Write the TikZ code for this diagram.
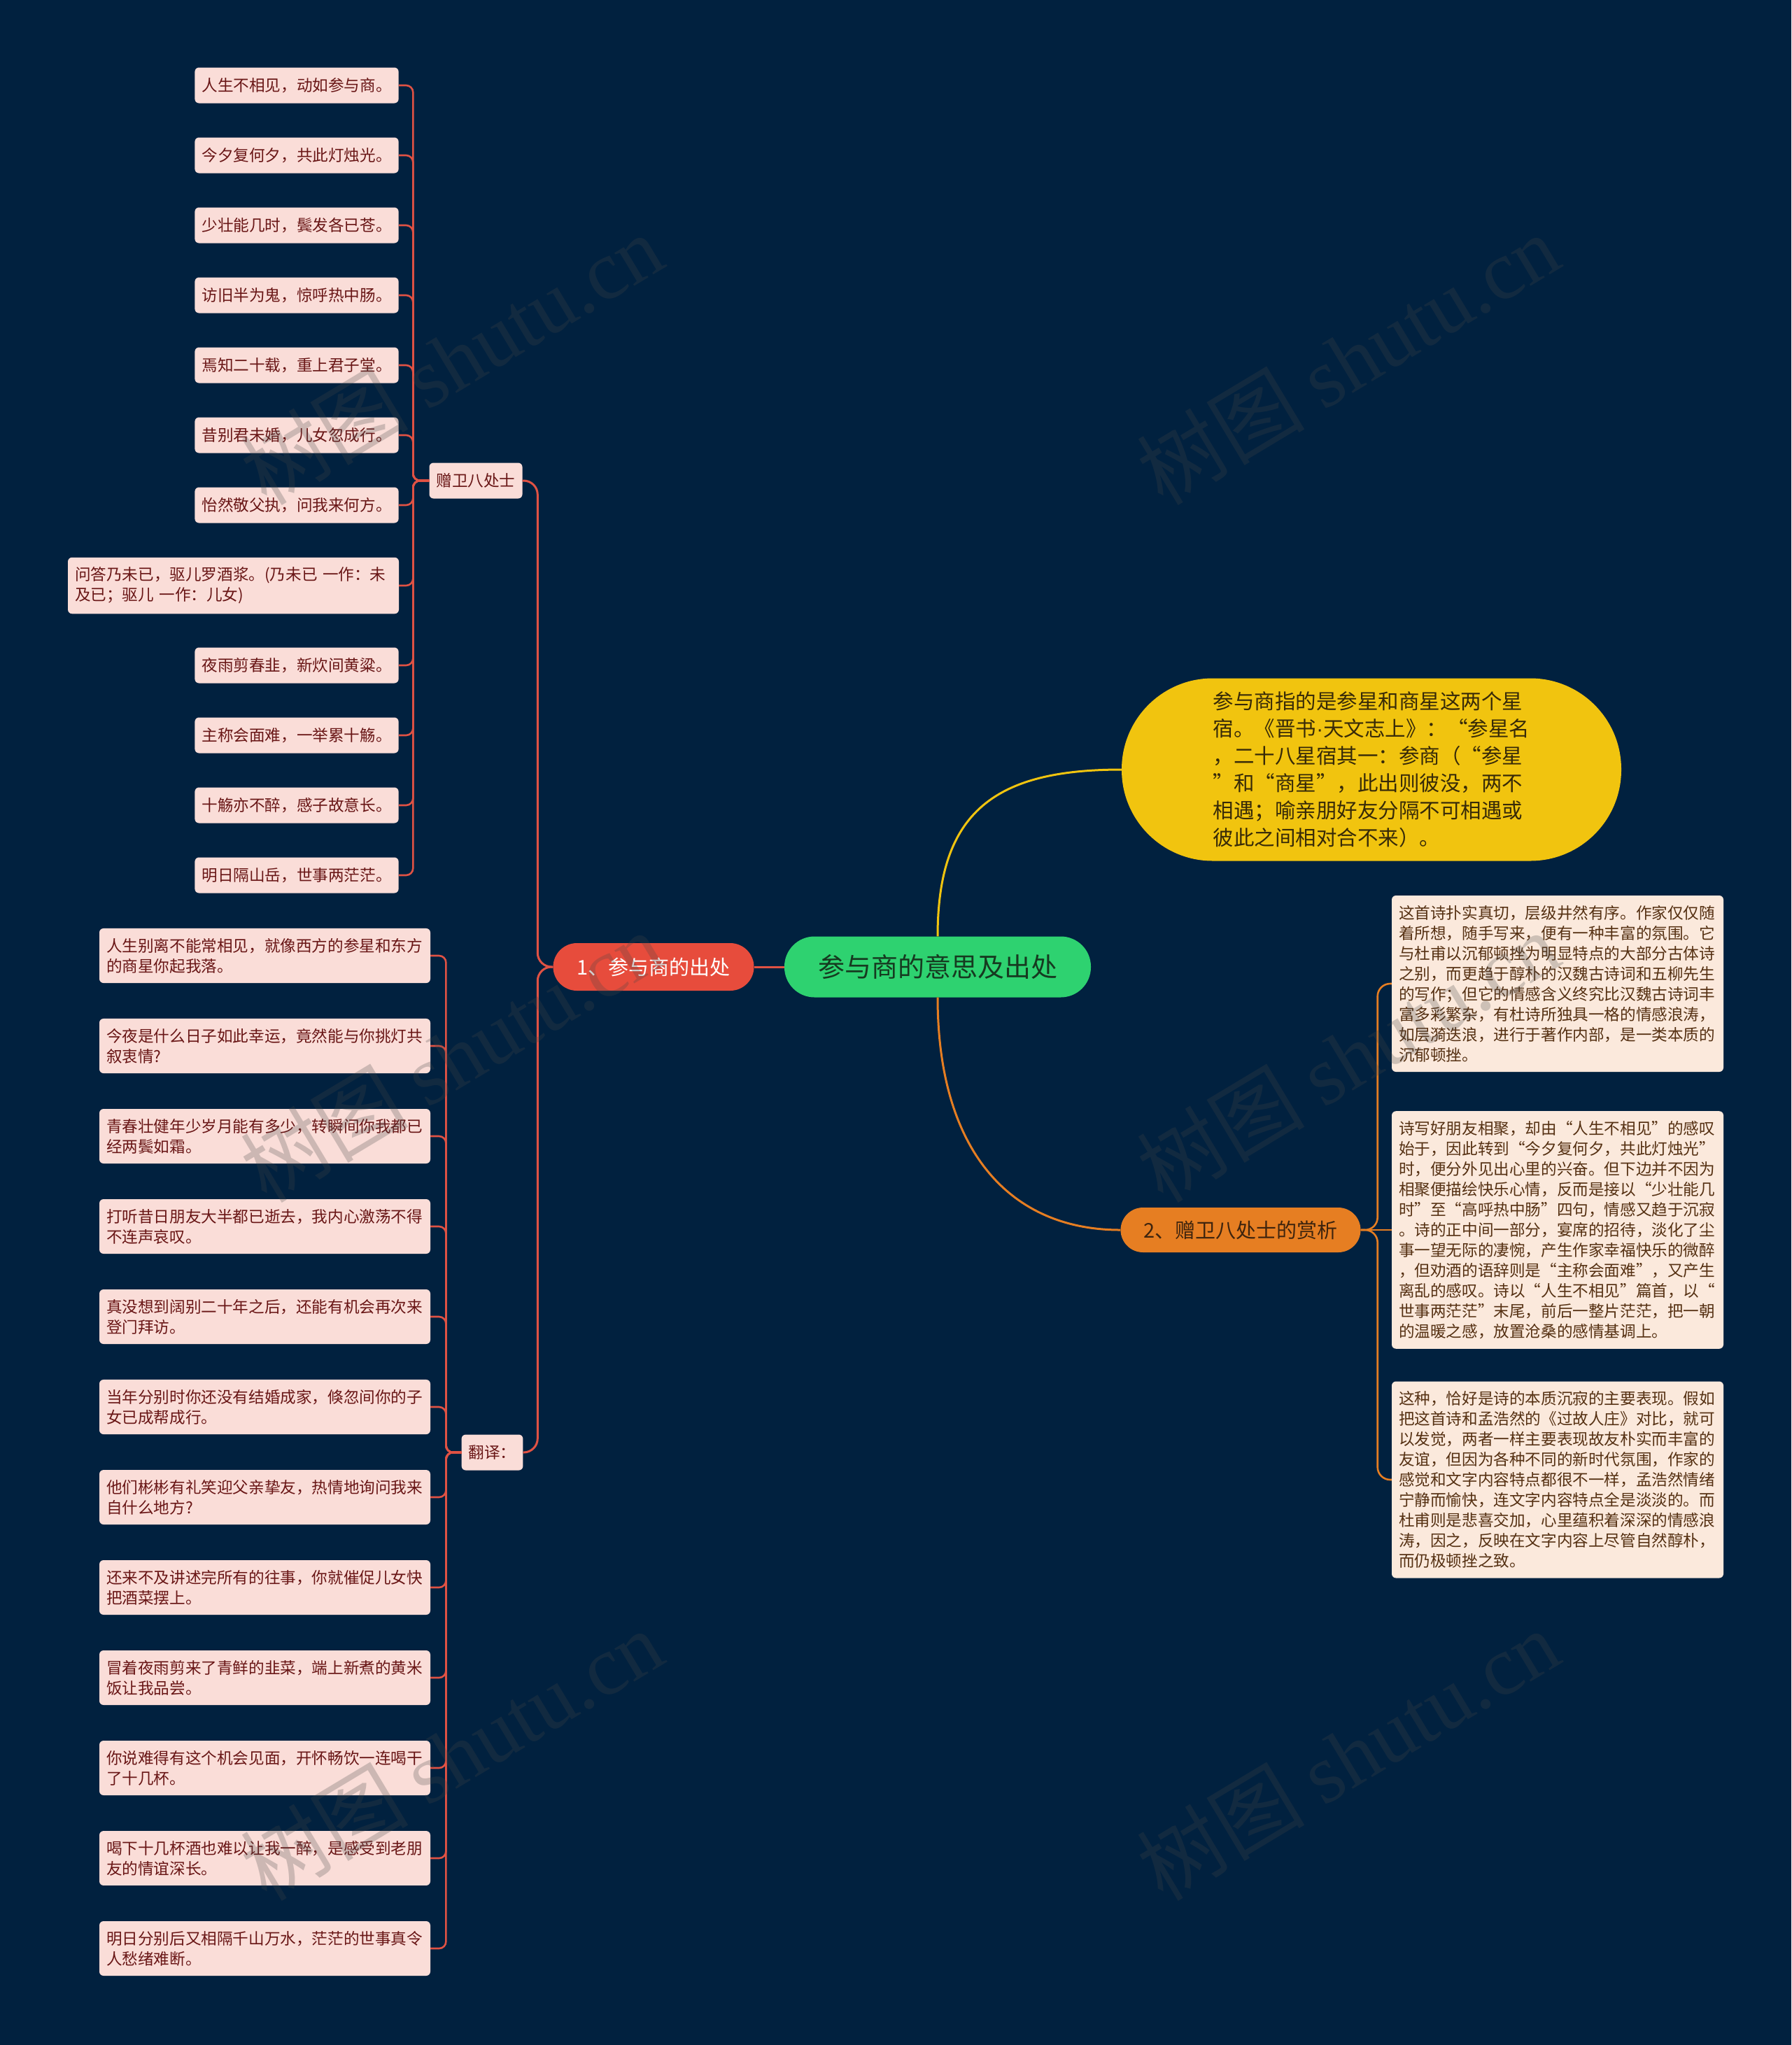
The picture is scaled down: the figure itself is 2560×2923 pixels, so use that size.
\documentclass[tikz,border=0pt]{standalone}
\usepackage{fontspec}
\setmainfont{Noto Sans CJK SC}
\newfontfamily\marklatin{Liberation Serif}
\newfontfamily\dotlatin{Liberation Sans}
\usepackage{xcolor}

\definecolor{bgnavy}{RGB}{1,33,63}
\definecolor{rootgreen}{RGB}{46,210,112}
\definecolor{roottext}{RGB}{22,58,32}
\definecolor{redbranch}{RGB}{231,76,60}
\definecolor{linered}{RGB}{224,82,68}
\definecolor{yellowbranch}{RGB}{241,196,15}
\definecolor{yellowtext}{RGB}{55,42,8}
\definecolor{orangebranch}{RGB}{230,126,34}
\definecolor{orangetext}{RGB}{62,36,14}
\definecolor{pinkfill}{RGB}{250,221,216}
\definecolor{pinktext}{RGB}{105,22,22}
\definecolor{creamfill}{RGB}{251,233,220}
\definecolor{creamtext}{RGB}{85,48,18}
\definecolor{markgray}{RGB}{70,70,70}

\newcommand{\leaffont}{\fontsize{22.6pt}{29pt}\selectfont}
\newcommand{\branchfont}{\fontsize{29pt}{39pt}\selectfont}
\newcommand{\rootfont}{\fontsize{38pt}{46pt}\selectfont}
\newcommand{\markfont}{\fontsize{120pt}{130pt}\selectfont}

\begin{document}
\begin{tikzpicture}[x=1pt, y=-1pt, node distance=100pt,
every node/.style={align=left},
leaf/.style={fill=pinkfill, text=pinktext, rounded corners=6pt, inner xsep=10pt, inner ysep=14pt, minimum height=51pt, font=\leaffont},
longleaf/.style={leaf, text width=453pt},
transleaf/.style={longleaf, node distance=129pt},
note/.style={fill=creamfill, text=creamtext, rounded corners=6pt, inner xsep=10pt, inner ysep=14pt, text width=454pt, font=\leaffont},
redlink/.style={draw=linered, line width=2.6pt, rounded corners=10pt},
orangelink/.style={draw=orangebranch, line width=2.6pt, rounded corners=18pt},
yellowlink/.style={draw=yellowbranch, line width=3pt},
watermark/.style={text=markgray, text opacity=0.25, font=\markfont, rotate=31}]

\fill[bgnavy] (0,0) rectangle (2560,2923);

\node[fill=rootgreen, text=roottext, font=\rootfont, align=center, minimum width=438pt, minimum height=87pt, rounded corners=43pt] (root) at (1340,1382) {参与商的意思及出处};
\node[fill=redbranch, text=white, font=\branchfont, align=center, minimum width=287pt, minimum height=68pt, rounded corners=34pt] (origin) at (934,1382) {1、参与商的出处};
\node[fill=yellowbranch, text=yellowtext, font=\fontsize{29.5pt}{39pt}\selectfont, minimum width=714pt, minimum height=261pt, rounded corners=130pt] (meaning) at (1960,1100) {参与商指的是参星和商星这两个星\\宿。《晋书{\dotlatin ·}天文志上》：“参星名\\，二十八星宿其一：参商（“参星\\”和“商星”，此出则彼没，两不\\相遇；喻亲朋好友分隔不可相遇或\\彼此之间相对合不来）。};
\node[fill=orangebranch, text=orangetext, font=\branchfont, align=center, minimum width=343pt, minimum height=64pt, rounded corners=32pt] (appreciation) at (1773,1758) {2、赠卫八处士的赏析};

\node[leaf] (poemhead) at (680,687) {赠卫八处士};
\node[leaf] (transhead) at (703.5,2076) {翻译：};

\node[leaf] (poem1) at (424,122) {人生不相见，动如参与商。};
\node[leaf, below of=poem1] (poem2) {今夕复何夕，共此灯烛光。};
\node[leaf, below of=poem2] (poem3) {少壮能几时，鬓发各已苍。};
\node[leaf, below of=poem3] (poem4) {访旧半为鬼，惊呼热中肠。};
\node[leaf, below of=poem4] (poem5) {焉知二十载，重上君子堂。};
\node[leaf, below of=poem5] (poem6) {昔别君未婚，儿女忽成行。};
\node[leaf, below of=poem6] (poem7) {怡然敬父执，问我来何方。};
\node[longleaf, node distance=115pt, below of=poem7, xshift=-90.5pt] (poem8) {问答乃未已，驱儿罗酒浆。(乃未已 一作：未\\及已；驱儿 一作：儿女)};
\node[leaf, node distance=114pt, below of=poem8, xshift=90.5pt] (poem9) {夜雨剪春韭，新炊间黄粱。};
\node[leaf, below of=poem9] (poem10) {主称会面难，一举累十觞。};
\node[leaf, below of=poem10] (poem11) {十觞亦不醉，感子故意长。};
\node[leaf, below of=poem11] (poem12) {明日隔山岳，世事两茫茫。};

\node[longleaf] (trans1) at (378.5,1366) {人生别离不能常相见，就像西方的参星和东方\\的商星你起我落。};
\node[transleaf, below of=trans1] (trans2) {今夜是什么日子如此幸运，竟然能与你挑灯共\\叙衷情?};
\node[transleaf, below of=trans2] (trans3) {青春壮健年少岁月能有多少，转瞬间你我都已\\经两鬓如霜。};
\node[transleaf, below of=trans3] (trans4) {打听昔日朋友大半都已逝去，我内心激荡不得\\不连声哀叹。};
\node[transleaf, below of=trans4] (trans5) {真没想到阔别二十年之后，还能有机会再次来\\登门拜访。};
\node[transleaf, below of=trans5] (trans6) {当年分别时你还没有结婚成家，倏忽间你的子\\女已成帮成行。};
\node[transleaf, below of=trans6] (trans7) {他们彬彬有礼笑迎父亲挚友，热情地询问我来\\自什么地方?};
\node[transleaf, below of=trans7] (trans8) {还来不及讲述完所有的往事，你就催促儿女快\\把酒菜摆上。};
\node[transleaf, below of=trans8] (trans9) {冒着夜雨剪来了青鲜的韭菜，端上新煮的黄米\\饭让我品尝。};
\node[transleaf, below of=trans9] (trans10) {你说难得有这个机会见面，开怀畅饮一连喝干\\了十几杯。};
\node[transleaf, below of=trans10] (trans11) {喝下十几杯酒也难以让我一醉，是感受到老朋\\友的情谊深长。};
\node[transleaf, below of=trans11] (trans12) {明日分别后又相隔千山万水，茫茫的世事真令\\人愁绪难断。};

\node[note] (note1) at (2226,1406) {这首诗扑实真切，层级井然有序。作家仅仅随\\着所想，随手写来，便有一种丰富的氛围。它\\与杜甫以沉郁顿挫为明显特点的大部分古体诗\\之别，而更趋于醇朴的汉魏古诗词和五柳先生\\的写作；但它的情感含义终究比汉魏古诗词丰\\富多彩繁杂，有杜诗所独具一格的情感浪涛，\\如层漪迭浪，进行于著作内部，是一类本质的\\沉郁顿挫。};
\node[note, node distance=352pt, below of=note1] (note2) {诗写好朋友相聚，却由“人生不相见”的感叹\\始于，因此转到“今夕复何夕，共此灯烛光”\\时，便分外见出心里的兴奋。但下边并不因为\\相聚便描绘快乐心情，反而是接以“少壮能几\\时”至“高呼热中肠”四句，情感又趋于沉寂\\。诗的正中间一部分，宴席的招待，淡化了尘\\事一望无际的凄惋，产生作家幸福快乐的微醉\\，但劝酒的语辞则是“主称会面难”，又产生\\离乱的感叹。诗以“人生不相见”篇首，以“\\世事两茫茫”末尾，前后一整片茫茫，把一朝\\的温暖之感，放置沧桑的感情基调上。};
\node[note, node distance=357pt, below of=note2] (note3) {这种，恰好是诗的本质沉寂的主要表现。假如\\把这首诗和孟浩然的《过故人庄》对比，就可\\以发觉，两者一样主要表现故友朴实而丰富的\\友谊，但因为各种不同的新时代氛围，作家的\\感觉和文字内容特点都很不一样，孟浩然情绪\\宁静而愉快，连文字内容特点全是淡淡的。而\\杜甫则是悲喜交加，心里蕴积着深深的情感浪\\涛，因之，反映在文字内容上尽管自然醇朴，\\而仍极顿挫之致。};

\draw[redlink, line width=3pt] (root) -- (origin);
\draw[redlink, line width=3pt, rounded corners=20pt] (origin.west) -- ++(-22pt,0) |- (poemhead.east);
\draw[redlink, line width=3pt, rounded corners=20pt] (origin.west) -- ++(-22pt,0) |- (transhead.east);

\draw[redlink] (poemhead.west) -- ++(-23pt,0) |- (poem1.east);
\draw[redlink] (poemhead.west) -- ++(-23pt,0) |- (poem2.east);
\draw[redlink] (poemhead.west) -- ++(-23pt,0) |- (poem3.east);
\draw[redlink] (poemhead.west) -- ++(-23pt,0) |- (poem4.east);
\draw[redlink] (poemhead.west) -- ++(-23pt,0) |- (poem5.east);
\draw[redlink] (poemhead.west) -- ++(-23pt,0) |- (poem6.east);
\draw[redlink] (poemhead.west) -- ++(-23pt,0) |- (poem7.east);
\draw[redlink] (poemhead.west) -- ++(-23pt,0) |- (poem8.east);
\draw[redlink] (poemhead.west) -- ++(-23pt,0) |- (poem9.east);
\draw[redlink] (poemhead.west) -- ++(-23pt,0) |- (poem10.east);
\draw[redlink] (poemhead.west) -- ++(-23pt,0) |- (poem11.east);
\draw[redlink] (poemhead.west) -- ++(-23pt,0) |- (poem12.east);

\draw[redlink] (transhead.west) -- ++(-22pt,0) |- (trans1.east);
\draw[redlink] (transhead.west) -- ++(-22pt,0) |- (trans2.east);
\draw[redlink] (transhead.west) -- ++(-22pt,0) |- (trans3.east);
\draw[redlink] (transhead.west) -- ++(-22pt,0) |- (trans4.east);
\draw[redlink] (transhead.west) -- ++(-22pt,0) |- (trans5.east);
\draw[redlink] (transhead.west) -- ++(-22pt,0) |- (trans6.east);
\draw[redlink] (transhead.west) -- ++(-22pt,0) |- (trans7.east);
\draw[redlink] (transhead.west) -- ++(-22pt,0) |- (trans8.east);
\draw[redlink] (transhead.west) -- ++(-22pt,0) |- (trans9.east);
\draw[redlink] (transhead.west) -- ++(-22pt,0) |- (trans10.east);
\draw[redlink] (transhead.west) -- ++(-22pt,0) |- (trans11.east);
\draw[redlink] (transhead.west) -- ++(-22pt,0) |- (trans12.east);

\draw[yellowlink] (root.north) .. controls +(0,-179) and +(-180,0) .. (meaning.west);
\draw[orangelink, line width=3pt] (root.south) .. controls +(0,214) and +(-162,0) .. (appreciation.west);
\draw[orangelink] (appreciation.east) -- ++(24pt,0) |- (note1.west);
\draw[orangelink] (appreciation) -- (note2);
\draw[orangelink] (appreciation.east) -- ++(24pt,0) |- (note3.west);

\node[watermark] (mark1) at (645,513) {树图 {\marklatin shutu.cn}};
\node[watermark] (mark2) at (1926,513) {树图 {\marklatin shutu.cn}};
\node[watermark] (mark3) at (645,1510) {树图 {\marklatin shutu.cn}};
\node[watermark] (mark4) at (1926,1510) {树图 {\marklatin shutu.cn}};
\node[watermark] (mark5) at (645,2508) {树图 {\marklatin shutu.cn}};
\node[watermark] (mark6) at (1926,2508) {树图 {\marklatin shutu.cn}};

\end{tikzpicture}
\end{document}
